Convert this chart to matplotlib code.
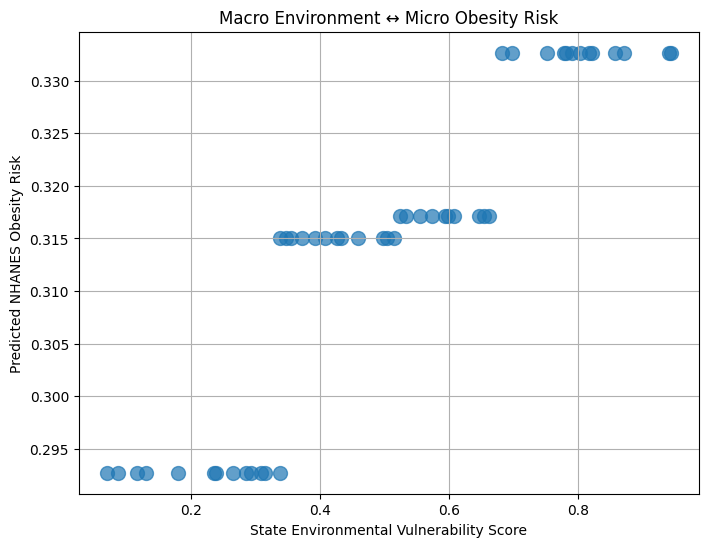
import matplotlib
matplotlib.use("Agg")
import matplotlib.pyplot as plt

# State environmental vulnerability scores, grouped by predicted risk level
x_low = [0.0698, 0.0868, 0.1163, 0.1302, 0.1798, 0.2357, 0.2388, 0.2651,
         0.2853, 0.2930, 0.3085, 0.3147, 0.3380]
x_mid = [0.3380, 0.3473, 0.3550, 0.3721, 0.3930, 0.4078, 0.4264, 0.4326,
         0.4589, 0.4977, 0.5039, 0.5147]
x_midhigh = [0.5240, 0.5333, 0.5550, 0.5736, 0.5938, 0.5984, 0.6078,
             0.6465, 0.6543, 0.6620]
x_high = [0.6822, 0.6977, 0.7519, 0.7783, 0.7814, 0.7907, 0.8031, 0.8171,
          0.8217, 0.8574, 0.8713, 0.9411, 0.9442]

risk_levels = [0.29272, 0.31507, 0.31709, 0.33266]

xs = x_low + x_mid + x_midhigh + x_high
ys = ([risk_levels[0]] * len(x_low) + [risk_levels[1]] * len(x_mid)
      + [risk_levels[2]] * len(x_midhigh) + [risk_levels[3]] * len(x_high))

fig, ax = plt.subplots(figsize=(8, 6), dpi=100)
ax.scatter(xs, ys, s=100, alpha=0.7)
ax.set_title("Macro Environment \u2194 Micro Obesity Risk")
ax.set_xlabel("State Environmental Vulnerability Score")
ax.set_ylabel("Predicted NHANES Obesity Risk")
ax.grid(True)
fig.savefig("out.png", dpi=100, bbox_inches="tight")
